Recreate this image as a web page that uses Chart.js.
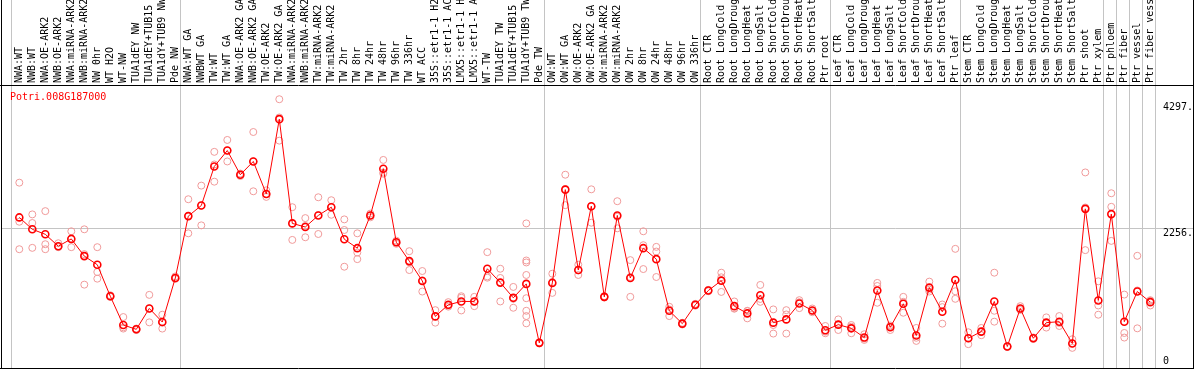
<!DOCTYPE html>
<html>
<head>
<meta charset="utf-8">
<script src="https://cdn.jsdelivr.net/npm/chart.js@4.4.1/dist/chart.umd.min.js"></script>
<style>
  body { margin: 0; background: #fff; }
  #wrap { width: 1194px; height: 370px; }
</style>
</head>
<body>
<div id="wrap"><canvas id="myChart"></canvas></div>
<script>
// sample labels (top strip)
const samples = [
  'NWA:WT', 'NWB:WT', 'NWA:OE-ARK2', 'NWB:OE-ARK2', 'NWA:miRNA-ARK2', 'NWB:miRNA-ARK2',
  'NW 0hr', 'WT H2O', 'WT-NW', 'TUA1dEY NW', 'TUA1dEY+TUB15 NW', 'TUA1dY+TUB9 NW', 'Pde NW',
  'NWA:WT GA', 'NWBWT GA', 'TW:WT', 'TW:WT GA', 'NWA:OE-ARK2 GA', 'NWB:OE-ARK2 GA',
  'TW:OE-ARK2', 'TW:OE-ARK2 GA', 'NWA:miRNA-ARK2 GA', 'NWB:miRNA-ARK2 GA', 'TW:miRNA-ARK2',
  'TW:miRNA-ARK2 GA', 'TW 2hr', 'TW 8hr', 'TW 24hr', 'TW 48hr', 'TW 96hr', 'TW 336hr', 'WT ACC',
  '35S::etr1-1 H2O', '35S::etr1-1 ACC', 'LMX5::etr1-1 H2O', 'LMX5::etr1-1 ACC', 'WT-TW',
  'TUA1dEY TW', 'TUA1dEY+TUB15 TW', 'TUA1dY+TUB9 TW', 'Pde TW',
  'OW:WT', 'OW:WT GA', 'OW:OE-ARK2', 'OW:OE-ARK2 GA', 'OW:miRNA-ARK2', 'OW:miRNA-ARK2 GA',
  'OW 2hr', 'OW 8hr', 'OW 24hr', 'OW 48hr', 'OW 96hr', 'OW 336hr',
  'Root CTR', 'Root LongCold', 'Root LongDrought', 'Root LongHeat', 'Root LongSalt',
  'Root ShortCold', 'Root ShortDrought', 'Root ShortHeat', 'Root ShortSalt', 'Ptr root',
  'Leaf CTR', 'Leaf LongCold', 'Leaf LongDrought', 'Leaf LongHeat', 'Leaf LongSalt',
  'Leaf ShortCold', 'Leaf ShortDrought', 'Leaf ShortHeat', 'Leaf ShortSalt', 'Ptr leaf',
  'Stem CTR', 'Stem LongCold', 'Stem LongDrought', 'Stem LongHeat', 'Stem LongSalt',
  'Stem ShortCold', 'Stem ShortDrought', 'Stem ShortHeat', 'Stem ShortSalt', 'Ptr shoot',
  'Ptr xylem', 'Ptr phloem', 'Ptr fiber', 'Ptr vessel', 'Ptr fiber vessel'
];

// mean expression per sample
const means = [
  2428, 2235, 2154, 1961, 2079, 1800, 1660, 1149, 682, 612, 951, 730, 1445,
  2449, 2621, 3255, 3513, 3121, 3336, 2809, 4023, 2331, 2272, 2460, 2594,
  2074, 1929, 2460, 3218, 2025, 1719, 1397, 822, 1010, 1064, 1064, 1595, 1370, 1123, 1349, 392,
  1365, 2879, 1574, 2610, 1139, 2460, 1445, 1929, 1751, 913, 704, 1010,
  1241, 1402, 988, 870, 1165, 720, 773, 1031, 918, 596,
  688, 628, 478, 1241, 645, 1026, 511, 1289, 897, 1413,
  467, 575, 1064, 333, 951, 467, 720, 736, 382, 2567,
  1080, 2482, 736, 1225, 1053
];

// replicate values per sample
const replicates = [
  [2992, 2358, 1912], [2477, 2337, 1934], [2530, 1993, 1912], [2009, 1961, 1945],
  [2203, 2079, 1945], [2235, 1832, 1337], [1945, 1542, 1434], [1165, 1139, 1149],
  [811, 624, 645], [612, 600, 625], [1171, 725, 951], [849, 720, 624], [1470, 1430, 1440],
  [2723, 2170, 2449], [2944, 2299, 2621], [3492, 3287, 3008], [3685, 3336, 3513],
  [3140, 3100, 3121], [3814, 2852, 3336], [2868, 2761, 2809], [4346, 3674, 4050],
  [2594, 2063, 2331], [2417, 2106, 2290], [2755, 2159, 2466], [2707, 2471, 2600],
  [2396, 2224, 1628], [2170, 1858, 1751], [2490, 2430, 2460], [3361, 3137, 3156],
  [2025, 2000, 2050], [1880, 1574, 1700], [1558, 1225, 1408], [923, 720, 822],
  [1053, 980, 997], [1149, 918, 1125], [1139, 988, 1064], [1864, 1471, 1450],
  [1595, 1445, 1064], [1300, 962, 1107], [2331, 1729, 1697, 1494, 1117, 913, 827, 709],
  [400, 385, 392],
  [1515, 1203, 1377], [3121, 2627, 2889], [1660, 1494, 1568], [2884, 2342, 2604],
  [1139, 1150, 1128], [2691, 2251, 2438], [1735, 1139, 1461], [2203, 1977, 1590],
  [1950, 1874, 1461], [978, 827, 934], [704, 690, 718], [1010, 995, 1025],
  [1241, 1230, 1252], [1531, 1219, 1456], [1064, 946, 954], [907, 790, 913],
  [1332, 1058, 1105], [935, 543, 682], [923, 543, 853], [1085, 956, 1052],
  [950, 890, 914], [666, 548, 574],
  [773, 601, 690], [682, 548, 654], [532, 440, 462], [1365, 1043, 1315],
  [601, 660, 674], [1139, 881, 1058], [634, 424, 475], [1386, 1225, 1256],
  [1015, 704, 972], [1918, 1230, 1107],
  [564, 371, 466], [634, 575, 516], [1531, 913, 736], [340, 325, 333],
  [988, 940, 925], [467, 480, 455], [806, 640, 714], [827, 666, 715],
  [451, 311, 384], [3158, 2589, 1897],
  [1391, 999, 849], [2820, 2600, 2047], [1176, 553, 478], [1805, 628, 1242],
  [1085, 999, 1075]
];

// y axis ticks
const yTickValues = [0, 2256, 4297];
const yTickLabels = ['0', '2256.', '4297.'];
const gridValues = [2256];

// index where each sample group starts (vertical separators)
const groupStarts = [0, 13, 41, 53, 63, 73, 84, 85, 86, 87, 88];

const geneName = 'Potri.008G187000';
const monoFont = 'DejaVu Sans Mono';

const meanPoints = means.map((v, i) => ({ x: i, y: v }));
const repPoints = [];
replicates.forEach((reps, i) => {
  reps.forEach(v => repPoints.push({ x: i, y: v }));
});

// grid, frame, y labels and gene name
const backdrop = {
  id: 'backdrop',
  beforeDatasetsDraw(chart) {
    const { ctx, chartArea, scales: { x, y } } = chart;
    ctx.save();
    ctx.strokeStyle = '#c4c4c4';
    ctx.lineWidth = 1;
    ctx.beginPath();
    groupStarts.forEach(b => {
      const px = Math.round(x.getPixelForValue(b - 0.62)) + 0.5;
      ctx.moveTo(px, 0);
      ctx.lineTo(px, chartArea.bottom);
    });
    gridValues.forEach(v => {
      const py = Math.round(y.getPixelForValue(v)) + 0.5;
      ctx.moveTo(chartArea.left, py);
      ctx.lineTo(chartArea.right, py);
    });
    ctx.stroke();
    ctx.restore();
  },
  afterDraw(chart) {
    const { ctx, scales: { y } } = chart;
    ctx.save();
    ctx.strokeStyle = '#000';
    ctx.lineWidth = 1;
    ctx.beginPath();
    ctx.moveTo(1.5, 0); ctx.lineTo(1.5, 369);
    ctx.moveTo(1193.5, 0); ctx.lineTo(1193.5, 369);
    ctx.moveTo(0, 85.5); ctx.lineTo(1194, 85.5);
    ctx.moveTo(0, 368.5); ctx.lineTo(1194, 368.5);
    ctx.stroke();

    ctx.font = '10px "' + monoFont + '"';
    ctx.fillStyle = '#000';
    ctx.textAlign = 'left';
    yTickValues.forEach((v, i) => {
      const py = y.getPixelForValue(v);
      if (v === 0) {
        ctx.textBaseline = 'bottom';
        ctx.fillText(yTickLabels[i], 1163, py - 1);
      } else {
        ctx.textBaseline = 'top';
        ctx.fillText(yTickLabels[i], 1163, py);
      }
    });

    ctx.fillStyle = '#ff0000';
    ctx.textBaseline = 'top';
    ctx.fillText(geneName, 10, 92);
    ctx.restore();
  }
};

new Chart(document.getElementById('myChart'), {
  type: 'line',
  data: {
    datasets: [
      {
        label: 'mean',
        data: meanPoints,
        borderColor: '#ff0000',
        borderWidth: 1,
        pointRadius: 3.5,
        pointBorderWidth: 1.6,
        pointBorderColor: '#ff0000',
        pointBackgroundColor: 'rgba(0,0,0,0)',
        tension: 0,
        showLine: true
      },
      {
        label: 'replicates',
        data: repPoints,
        showLine: false,
        pointRadius: 3.5,
        pointBorderWidth: 1,
        pointBorderColor: '#f09a9a',
        pointBackgroundColor: 'rgba(0,0,0,0)'
      }
    ]
  },
  options: {
    responsive: true,
    maintainAspectRatio: false,
    animation: false,
    layout: { autoPadding: false, padding: { left: 2, right: 1, top: 0, bottom: 1 } },
    plugins: {
      legend: { display: false },
      tooltip: { enabled: false }
    },
    scales: {
      x: {
        type: 'linear',
        position: 'top',
        min: -1.331,
        max: 90.284,
        grid: { display: false, drawTicks: false },
        border: { display: false },
        afterBuildTicks: (scale) => {
          scale.ticks = samples.map((_, i) => ({ value: i }));
        },
        afterFit: (scale) => {
          scale.height = 85;
          scale.paddingLeft = 0;
          scale.paddingRight = 0;
        },
        ticks: {
          autoSkip: false,
          minRotation: 90,
          maxRotation: 90,
          padding: 2,
          labelOffset: 12,
          color: '#000',
          font: { family: monoFont, size: 10 },
          callback: (v) => samples[v]
        }
      },
      y: {
        display: false,
        min: -32,
        max: 4577
      }
    }
  },
  plugins: [backdrop]
});
</script>
</body>
</html>
